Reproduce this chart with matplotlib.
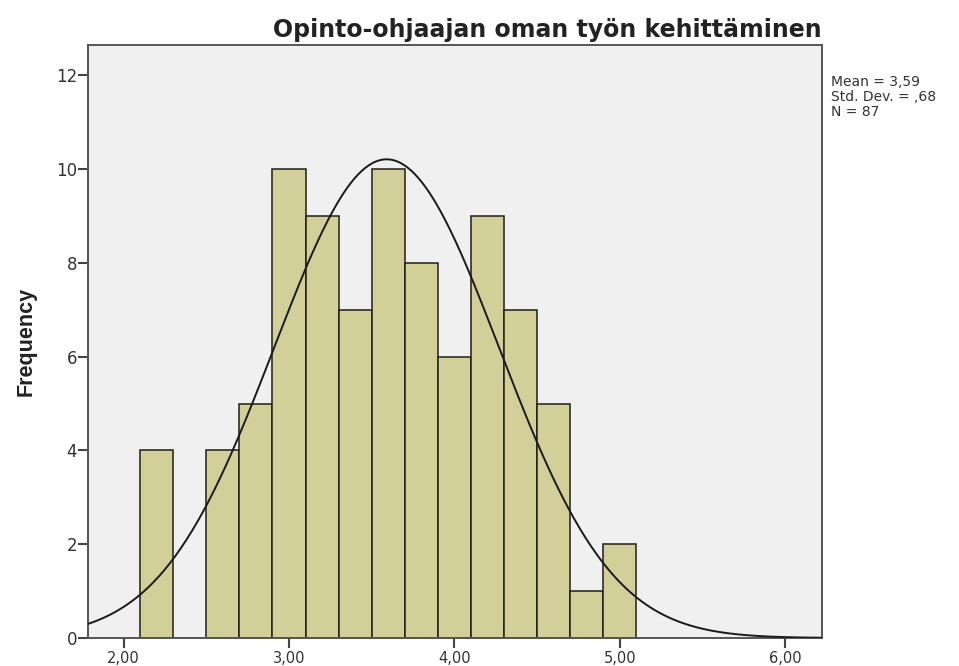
import matplotlib
matplotlib.use("Agg")
import matplotlib.pyplot as plt
import numpy as np

plt.rcParams["font.family"] = ["DejaVu Sans"]

# histogram data (bin width 0.2)
bin_edges = [2.1, 2.3, 2.5, 2.7, 2.9, 3.1, 3.3, 3.5, 3.7, 3.9, 4.1, 4.3, 4.5, 4.7, 4.9, 5.1]
counts = [4, 0, 4, 5, 10, 9, 7, 10, 8, 6, 9, 7, 5, 1, 2]

mean = 3.59
std = 0.68
n = 87

x_ticks = [2, 3, 4, 5, 6]
x_labels = ["2,00", "3,00", "4,00", "5,00", "6,00"]
y_ticks = [0, 2, 4, 6, 8, 10, 12]

fig = plt.figure(figsize=(9.59, 6.66), dpi=100)
fig.patch.set_facecolor("white")
ax = fig.add_axes([0.0918, 0.042, 0.765, 0.89])
ax.set_facecolor("#f0f0f0")

lefts = np.array(bin_edges[:-1])
widths = np.diff(bin_edges)
ax.bar(lefts, counts, width=widths, align="edge",
       color="#d3cf99", edgecolor="#1f1f17", linewidth=1.1, zorder=2)

# normal curve
bw = 0.2
xs = np.linspace(1.78, 6.22, 400)
ys = n * bw / (std * np.sqrt(2 * np.pi)) * np.exp(-0.5 * ((xs - mean) / std) ** 2)
ax.plot(xs, ys, color="#1a1a1a", linewidth=1.4, zorder=3)

ax.set_xlim(1.785, 6.22)
ax.set_ylim(0, 12.64)
ax.set_xticks(x_ticks)
ax.set_xticklabels(x_labels)
ax.set_yticks(y_ticks)

ax.tick_params(axis="both", direction="out", length=7, width=1.5,
               color="#444444", labelcolor="#333333")
ax.tick_params(axis="y", pad=1, labelsize=12)
ax.tick_params(axis="x", pad=2, labelsize=10.5)

for spine in ax.spines.values():
    spine.set_color("#555555")
    spine.set_linewidth(1.4)

ax.set_ylabel("Frequency", fontsize=15.5, fontweight="bold", color="#222222",
              labelpad=14, family="Liberation Sans")
ax.set_title("Opinto-ohjaajan oman työn kehittäminen", loc="right",
             fontsize=17, fontweight="bold", color="#222222", pad=6)

fig.text(0.867, 0.888, "Mean = 3,59\nStd. Dev. = ,68\nN = 87",
         fontsize=10, color="#333333", va="top", ha="left", linespacing=1.1)

plt.savefig("out.png", dpi=100, facecolor="white")
plt.close()
